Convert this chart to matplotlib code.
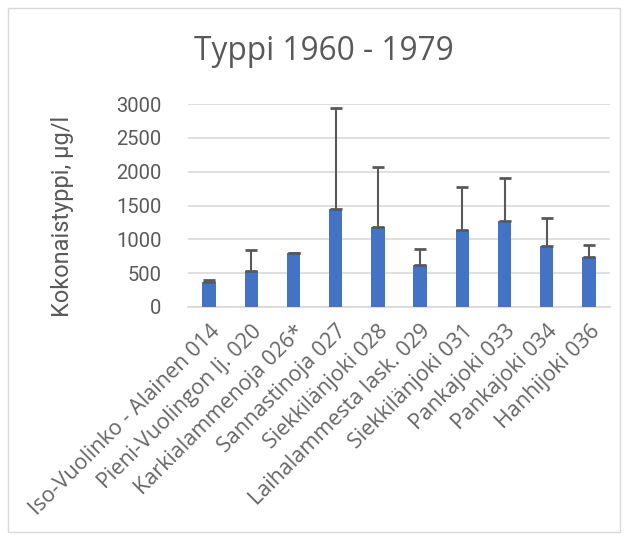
import numpy as np
import matplotlib.pyplot as plt

sites = ['Iso-Vuolinko - Alainen 014', 'Pieni-Vuolingon lj. 020', 'Karkialammenoja 026*',
         'Sannastinoja 027', 'Siekkilänjoki 028', 'Laihalammesta lask. 029',
         'Siekkilänjoki 031', 'Pankajoki 033', 'Pankajoki 034', 'Hanhijoki 036']
means = [375, 525, 795, 1450, 1175, 615, 1145, 1265, 895, 740]
upper = [400, 840, 805, 2935, 2075, 860, 1780, 1908, 1320, 910]

err = np.array(upper) - np.array(means)

plt.rcParams['font.family'] = ['Roboto', 'DejaVu Sans']
fig = plt.figure(figsize=(6.26, 5.4), dpi=100)
ax = fig.add_axes([188/626, 1 - 307/540, (610-188)/626, (307-104)/540])

x = np.arange(len(sites))
ax.bar(x, means, width=0.32, color='#4472c4', zorder=3)
ax.errorbar(x, means, yerr=[np.zeros(len(err)), err], fmt='none',
            ecolor='#595959', elinewidth=1.5, capsize=4.5, capthick=2, zorder=4)

ax.set_xlim(-0.5, len(sites) - 0.5)
ax.set_ylim(0, 3000)
ax.set_yticks(np.arange(0, 3001, 500))
ax.grid(axis='y', color='#d9d9d9', linewidth=1.2, zorder=0)
for s in ['top', 'right', 'left']:
    ax.spines[s].set_visible(False)
ax.spines['bottom'].set_color('#d9d9d9')
ax.spines['bottom'].set_linewidth(1.2)
ax.tick_params(axis='both', length=0, colors='#595959')
ax.tick_params(axis='y', pad=19, labelsize=14.5)
ax.tick_params(axis='x', pad=10)
ax.set_xticks(x)
ax.set_xticklabels(sites, rotation=45, ha='right', rotation_mode='anchor',
                   family=['Open Sans', 'DejaVu Sans'], fontsize=15.5, color='#666666')

fig.text(62/626, 1 - 216/540, 'Kokonaistyppi, µg/l', rotation=90, ha='center', va='center',
         fontsize=17, color='#595959')
fig.text(324/626, 1 - 60/540, 'Typpi 1960 - 1979', ha='center', va='baseline',
         fontsize=22.8, color='#595959', family=['Open Sans', 'DejaVu Sans'])

fig.patches.append(plt.Rectangle((8/626, 8/540), 612/626, 524/540, transform=fig.transFigure,
                                 fill=False, edgecolor='#d9d9d9', linewidth=1))

fig.savefig('out.png', dpi=100)
